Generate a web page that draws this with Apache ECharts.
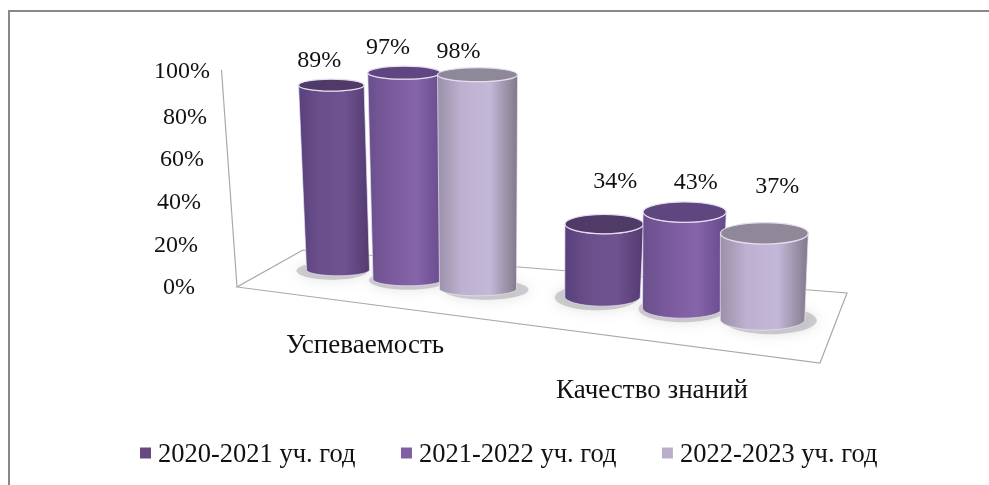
<!DOCTYPE html>
<html><head><meta charset="utf-8">
<style>html,body{margin:0;padding:0;background:#fff}#c{width:989px;height:485px}</style>
<script src="https://cdn.jsdelivr.net/npm/echarts@6/dist/echarts.min.js"></script>
</head><body><div id="c"></div>
<script>
const categories = ['Успеваемость', 'Качество знаний'];
const seriesNames = ['2020-2021 уч. год', '2021-2022 уч. год', '2022-2023 уч. год'];
const values2020 = [89, 34];
const values2021 = [97, 43];
const values2022 = [98, 37];
const yTicks = [0, 20, 40, 60, 80, 100];

const FONT = '"Liberation Serif","Times New Roman",serif';
const legendColors = ['#67497f', '#7f5fa3', '#b9aecb'];
const sideStops = [
  ['#57407a', '#6b4f8c', '#6f5290', '#523a6e'],
  ['#6a4f8c', '#7a5a9c', '#8664aa', '#65498a'],
  ['#9a90a8', '#bdb0d0', '#c4b8d8', '#7e7888']
];
const lidColors = ['#4f3a68', '#5f4680', '#8f8899'];
// picture-space nudge of each value label from the top of its cylinder [series][category]
const labelNudge = [[[-12,-24],[11,-42]], [[-16,-25],[11,-29]], [[-19,-23],[13,-47]]];

function scene(c, s) {
  const d = s - 1;
  return {
    dx: 43 - 12.5 * c + d * (70 + 10 * c),
    dy: -7.7 + 28.7 * c + d * (9.5 + 2 * c),
    width: 70 + 10 * c + d * (7 - 2.5 * c),
    rise: (2.13 + 0.1 * c + d * (0.055 + 0.045 * c)) / 2.13,
    lean: -0.04 + 0.09 * c + d * 0.035 * (1 - c),
    ry: 6.5 + 3.7 * c + d * 0.5
  };
}

function cylinder(sIdx) {
  return function (params, api) {
    const c = api.value(0), v = api.value(1);
    const p = scene(c, sIdx);
    const origin = api.coord([c, 0]);
    const top = api.coord([c, v]);
    const bx = origin[0] + p.dx, by = origin[1] + p.dy;
    const tx = bx + p.lean * v, ty = by - (origin[1] - top[1]) * p.rise;
    const rb = p.width / 2, rt = rb * 1.04, ry = p.ry;
    const pts = [];
    for (let i = 0; i <= 32; i++) {
      const a = Math.PI * i / 32;
      pts.push([bx - rb * Math.cos(a), by + ry * Math.sin(a)]);
    }
    for (let i = 0; i <= 32; i++) {
      const a = Math.PI * i / 32;
      pts.push([tx + rt * Math.cos(a), ty + ry * Math.sin(a)]);
    }
    const st = sideStops[sIdx];
    const grad = new echarts.graphic.LinearGradient(0, 0, 1, 0, [
      {offset: 0, color: st[0]}, {offset: 0.3, color: st[1]}, {offset: 0.65, color: st[2]}, {offset: 1, color: st[3]}
    ]);
    const nudge = labelNudge[sIdx][c];
    return {
      type: 'group',
      children: [
        {type: 'ellipse', z2: 1, shape: {cx: bx + (sIdx === 1 ? 0 : (sIdx === 0 ? -6 : 8)), cy: by + 1, rx: rb + 4, ry: ry + 3},
          style: {fill: 'rgba(130,130,135,0.35)', shadowBlur: 14, shadowColor: 'rgba(120,120,125,0.6)'}},
        {type: 'polygon', z2: 2, shape: {points: pts}, style: {fill: grad, stroke: 'rgba(235,228,245,0.7)', lineWidth: 1}},
        {type: 'ellipse', z2: 3, shape: {cx: tx, cy: ty, rx: rt, ry: ry},
          style: {fill: lidColors[sIdx], stroke: '#e6def0', lineWidth: 1.2}},
        {type: 'text', z2: 4, style: {x: tx + nudge[0], y: ty + nudge[1], text: v + '%', fill: '#111', font: '24px ' + FONT, textAlign: 'center', textVerticalAlign: 'middle'}}
      ]
    };
  };
}

function frame(params, api) {
  const o = api.coord([0, 0]);
  const t = api.coord([0, 100]);
  const ox = o[0] - 128, oy = o[1];
  const offs = [[0, 0], [583, 76], [610, 6], [66, -37]];
  const pts = offs.map(function (q) { return [ox + q[0], oy + q[1]]; });
  const ls = {stroke: '#aaaaaa', lineWidth: 1.2, fill: 'none'};
  return {
    type: 'group',
    children: [
      {type: 'polyline', shape: {points: [pts[3], pts[0], pts[1], pts[2], pts[3]]}, style: ls},
      {type: 'polyline', shape: {points: [[o[0] - 143.5, t[1] - 4], [ox, oy]]}, style: ls}
    ]
  };
}

const rich = {};
yTicks.forEach(function (t) {
  const right = (100 - t) * 0.15;
  rich['t' + t] = {fontSize: 24, fontFamily: FONT, color: '#111',
    padding: t === 100 ? [0, right, 4, 0] : [2, right, 0, 0]};
});

const seriesValues = [values2020, values2021, values2022];
const option = {
  animation: false,
  backgroundColor: '#fff',
  color: legendColors,
  graphic: [
    {type: 'polyline', silent: true, shape: {points: [[9, 485], [9, 11], [989, 11]]}, style: {stroke: '#888', lineWidth: 2, fill: 'none'}}
  ],
  legend: {
    left: 135, top: 437, data: seriesNames, icon: 'rect', itemWidth: 11, itemHeight: 11, itemGap: 45.5,
    formatter: function (n) { return '{a|' + n + '}'; },
    textStyle: {fontFamily: FONT, fontSize: 26.5, color: '#111',
      rich: {a: {fontFamily: FONT, fontSize: 26.5, color: '#111', padding: [5, 0, 0, 2]}}}
  },
  grid: {left: 221.5, top: 74, width: 574, height: 213},
  xAxis: {
    type: 'category', data: categories,
    axisLine: {show: false}, axisTick: {show: false}, splitLine: {show: false},
    axisLabel: {
      interval: 0, margin: 45,
      formatter: function (val, i) { return (i === 0 ? '{a|' : '{b|') + val + '}'; },
      rich: {
        a: {fontFamily: FONT, fontSize: 27, color: '#111'},
        b: {fontFamily: FONT, fontSize: 27, color: '#111', padding: [45, 0, 0, 0]}
      }
    }
  },
  yAxis: {
    type: 'value', min: 0, max: 100, interval: 20,
    axisLine: {show: false}, axisTick: {show: false}, splitLine: {show: false},
    axisLabel: {margin: 11.5, formatter: function (v) { return '{t' + v + '|' + v + '%}'; }, rich: rich}
  },
  series: [
    {type: 'custom', name: '_frame', renderItem: frame, data: [[0, 0]], silent: true, z: 1, encode: {x: 0, y: 1}}
  ].concat(seriesNames.map(function (n, s) {
    return {
      type: 'custom', name: n, z: 2 + s, renderItem: cylinder(s), encode: {x: 0, y: 1},
      itemStyle: {color: legendColors[s]},
      data: seriesValues[s].map(function (v, c) { return [c, v]; })
    };
  }))
};
echarts.init(document.getElementById('c'), null, {renderer: 'canvas'}).setOption(option);
</script></body></html>
